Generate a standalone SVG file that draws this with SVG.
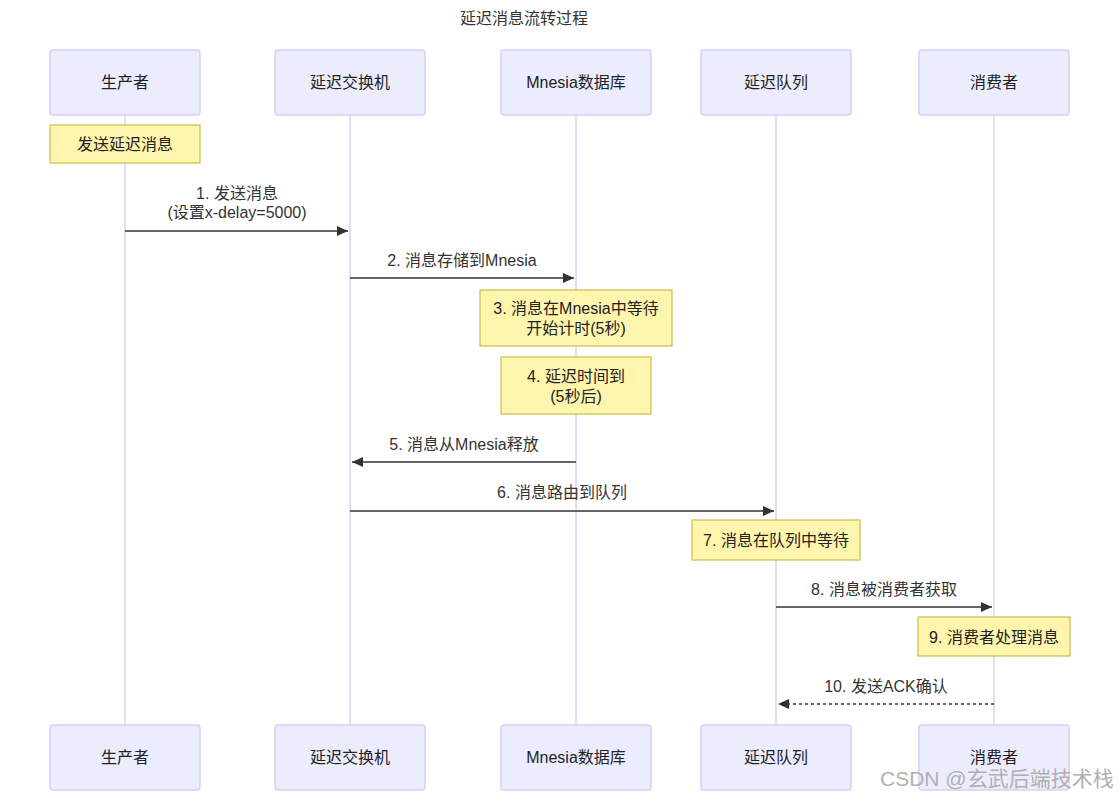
<svg xmlns="http://www.w3.org/2000/svg" width="1120" height="801" viewBox="0 0 1120 801">
<style>
text{font-family:"Liberation Sans","Noto Sans CJK SC",sans-serif;}
.actor rect{fill:#ECECFF;stroke:#D6D0F7;stroke-width:1.5;}
.actor text{font-size:16px;fill:#222;text-anchor:middle;}
.note rect{fill:#FFF5AD;stroke:#C8C04A;stroke-width:1.2;}
.note text{font-size:16px;fill:#222;text-anchor:middle;}
.life{stroke:#D6D0F7;stroke-width:1.5;}
.msg{stroke:#333;stroke-width:1.6;fill:none;}
.dash{stroke-dasharray:3,3;}
.ml{font-size:16px;fill:#333;text-anchor:middle;}
</style>
<defs>
<marker id="ah" markerWidth="12" markerHeight="12" refX="11" refY="5" orient="auto" markerUnits="userSpaceOnUse">
<path d="M0,0 L11,5 L0,10 z" fill="#333"/>
</marker>
</defs>
<rect width="1120" height="801" fill="#fff"/>
<text x="524" y="24" font-size="16" fill="#333" text-anchor="middle">延迟消息流转过程</text>
<g id="lifelines">
<line class="life" x1="125" y1="115" x2="125" y2="725"/>
<line class="life" x1="350" y1="115" x2="350" y2="725"/>
<line class="life" x1="576" y1="115" x2="576" y2="725"/>
<line class="life" x1="776" y1="115" x2="776" y2="725"/>
<line class="life" x1="994" y1="115" x2="994" y2="725"/>
</g>
<g id="producer" class="actor"><rect x="50" y="50" width="150" height="65" rx="3"/><text x="125" y="88">生产者</text></g>
<g id="exchange" class="actor"><rect x="275" y="50" width="150" height="65" rx="3"/><text x="350" y="88">延迟交换机</text></g>
<g id="mnesia" class="actor"><rect x="501" y="50" width="150" height="65" rx="3"/><text x="576" y="88">Mnesia数据库</text></g>
<g id="queue" class="actor"><rect x="701" y="50" width="150" height="65" rx="3"/><text x="776" y="88">延迟队列</text></g>
<g id="consumer" class="actor"><rect x="919" y="50" width="150" height="65" rx="3"/><text x="994" y="88">消费者</text></g>
<g id="producer-bottom" class="actor"><rect x="50" y="725" width="150" height="65" rx="3"/><text x="125" y="763">生产者</text></g>
<g id="exchange-bottom" class="actor"><rect x="275" y="725" width="150" height="65" rx="3"/><text x="350" y="763">延迟交换机</text></g>
<g id="mnesia-bottom" class="actor"><rect x="501" y="725" width="150" height="65" rx="3"/><text x="576" y="763">Mnesia数据库</text></g>
<g id="queue-bottom" class="actor"><rect x="701" y="725" width="150" height="65" rx="3"/><text x="776" y="763">延迟队列</text></g>
<g id="consumer-bottom" class="actor"><rect x="919" y="725" width="150" height="65" rx="3"/><text x="994" y="763">消费者</text></g>
<g id="note1" class="note"><rect x="50" y="125" width="150" height="38"/><text x="125" y="150">发送延迟消息</text></g>
<g id="note3" class="note"><rect x="480" y="290" width="192" height="56"/><text x="576" y="314">3. 消息在Mnesia中等待</text><text x="576" y="334">开始计时(5秒)</text></g>
<g id="note4" class="note"><rect x="501" y="357" width="150" height="57"/><text x="576" y="382">4. 延迟时间到</text><text x="576" y="402">(5秒后)</text></g>
<g id="note7" class="note"><rect x="692" y="520" width="168" height="40"/><text x="776" y="546">7. 消息在队列中等待</text></g>
<g id="note9" class="note"><rect x="918" y="617" width="152" height="39"/><text x="994" y="643">9. 消费者处理消息</text></g>
<g id="connectors">
<line class="msg" x1="125" y1="231" x2="348" y2="231" marker-end="url(#ah)"/>
<line class="msg" x1="350" y1="278" x2="574" y2="278" marker-end="url(#ah)"/>
<line class="msg" x1="576" y1="462" x2="352" y2="462" marker-end="url(#ah)"/>
<line class="msg" x1="350" y1="511" x2="774" y2="511" marker-end="url(#ah)"/>
<line class="msg" x1="776" y1="607" x2="992" y2="607" marker-end="url(#ah)"/>
<line class="msg dash" x1="994" y1="704" x2="778" y2="704" marker-end="url(#ah)"/>
<text class="ml" x="237" y="199">1. 发送消息</text>
<text class="ml" x="237" y="218">(设置x-delay=5000)</text>
<text class="ml" x="462" y="266">2. 消息存储到Mnesia</text>
<text class="ml" x="464" y="450">5. 消息从Mnesia释放</text>
<text class="ml" x="562" y="498">6. 消息路由到队列</text>
<text class="ml" x="884" y="595">8. 消息被消费者获取</text>
<text class="ml" x="886" y="692">10. 发送ACK确认</text>
</g>
<text x="880" y="786" font-size="21" fill="#b0b0b0">CSDN @玄武后端技术栈</text>
</svg>
